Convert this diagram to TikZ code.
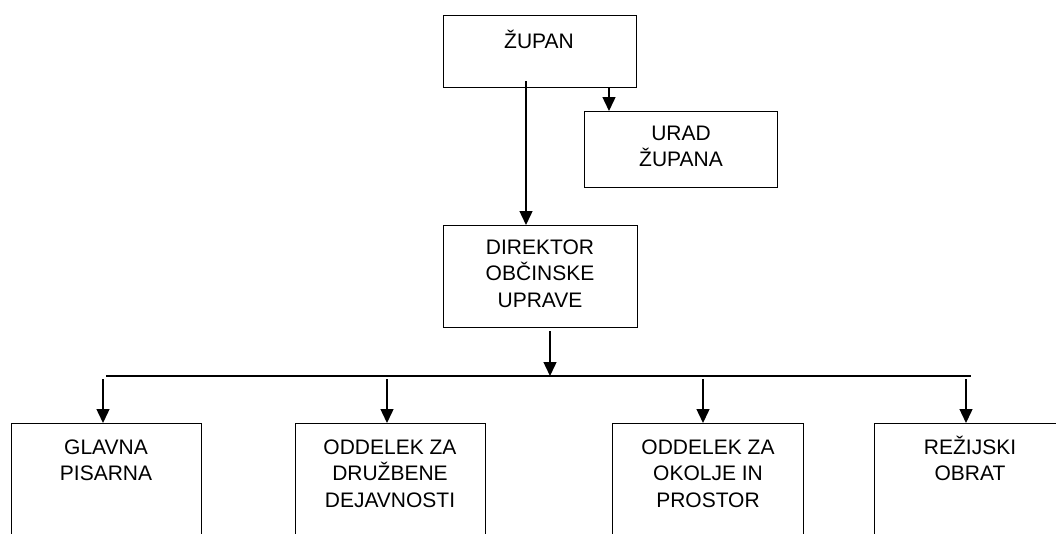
\documentclass[tikz,border=0pt]{standalone}
\usepackage{fontspec}
\setmainfont{Liberation Sans}
\usetikzlibrary{arrows.meta}
\tikzset{
  box/.style={draw=black, line width=1.4pt, rectangle, inner sep=0pt, anchor=north west},
  lbl/.style={anchor=north, align=center, inner sep=0pt, font=\fontsize{21}{26.5}\selectfont},
  conn/.style={draw=black, line width=1.4pt},
  arr/.style={conn, -{Triangle[width=13pt,length=14pt]}}
}
\newcommand{\fl}{\rule{0pt}{20pt}}
\begin{document}
\begin{tikzpicture}[x=1pt,y=-1pt]
\useasboundingbox (0,0) rectangle (1056,533);
\clip (0,0) rectangle (1056,533);
% boxes
\node[box, minimum width=193pt, minimum height=72pt] (zupan) at (443,15) {};
\node[box, minimum width=193pt, minimum height=76pt] (urad) at (584,111) {};
\node[box, minimum width=194pt, minimum height=102pt] (dir) at (443,225) {};
\node[box, minimum width=190pt, minimum height=140pt] (glav) at (11,423) {};
\node[box, minimum width=190pt, minimum height=140pt] (druz) at (295,423) {};
\node[box, minimum width=191pt, minimum height=140pt] (okol) at (612,423) {};
\node[box, minimum width=192pt, minimum height=140pt] (rez) at (874,423) {};
% labels
\node[lbl] (tzupan) at (539,28) {\fl ŽUPAN};
\node[lbl] (turad) at (681,120) {\fl URAD\\ŽUPANA};
\node[lbl] (tdir) at (540,234) {\fl DIREKTOR\\OBČINSKE\\UPRAVE};
\node[lbl] (tglav) at (106,434) {\fl GLAVNA\\PISARNA};
\node[lbl] (tdruz) at (390,434) {\fl ODDELEK ZA\\DRUŽBENE\\DEJAVNOSTI};
\node[lbl] (tokol) at (708,434) {\fl ODDELEK ZA\\OKOLJE IN\\PROSTOR};
\node[lbl] (trez) at (970,434) {\fl REŽIJSKI\\OBRAT};
% connectors
\coordinate (a1) at (609,87);
\coordinate (a2) at (526,81);
\coordinate (a3) at (550,331);
\coordinate (busL) at (106,376);
\coordinate (busR) at (971,376);
\coordinate (b1) at (103,379);
\coordinate (b2) at (387,379);
\coordinate (b3) at (703,379);
\coordinate (b4) at (966,379);
\draw[arr] (a1) -- (a1 |- urad.north);
\draw[arr] (a2) -- (a2 |- dir.north);
\draw[arr] (a3) -- (a3 |- busL);
\draw[conn] (busL) -- (busR);
\draw[arr] (b1) -- (b1 |- glav.north);
\draw[arr] (b2) -- (b2 |- druz.north);
\draw[arr] (b3) -- (b3 |- okol.north);
\draw[arr] (b4) -- (b4 |- rez.north);
\end{tikzpicture}
\end{document}
